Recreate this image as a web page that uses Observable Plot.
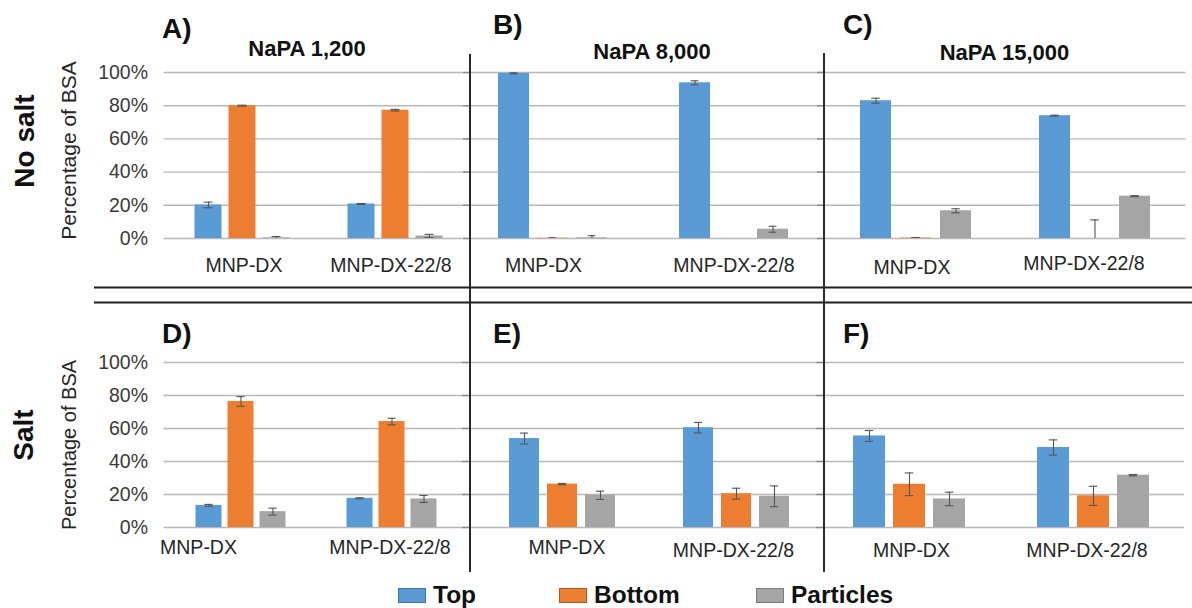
<!DOCTYPE html>
<html>
<head>
<meta charset="utf-8">
<script src="https://cdn.jsdelivr.net/npm/d3@7"></script>
<script src="https://cdn.jsdelivr.net/npm/@observablehq/plot@0.6"></script>
<style>
  html, body { margin: 0; padding: 0; background: #fff; }
  #figure { position: relative; width: 1192px; height: 608px; overflow: hidden;
            font-family: "Liberation Sans", Arial, sans-serif; background: #fff; }
  .panel { position: absolute; }
  .panel svg { position: absolute; left: 0; top: 0; }
  #overlay { position: absolute; left: 0; top: 0; pointer-events: none; }
  .legend-item { position: absolute; top: 581px; height: 28px; line-height: 28px;
                 display: flex; align-items: center; gap: 7px;
                 font-weight: bold; font-size: 24.5px; color: #111; white-space: nowrap; }
  .swatch { width: 26px; height: 13px; border: 1px solid; }
</style>
</head>
<body>
<div id="figure"></div>
<script>
// ---- data ---------------------------------------------------------------
const categories = ["MNP-DX", "MNP-DX-22/8"];
const series = ["Top", "Bottom", "Particles"];
const seriesColors = ["#5B9BD5", "#ED7D31", "#A5A5A5"];
const seriesBorders = ["#41719C", "#AE5A21", "#7C7C7C"];
const yTicks = [0, 20, 40, 60, 80, 100];
const panelIds = ["A", "B", "C", "D", "E", "F"];
const napaTitles = ["NaPA 1,200", "NaPA 8,000", "NaPA 15,000"];
const rowLabels = ["No salt", "Salt"];
const yLabel = "Percentage of BSA";

// mean % of BSA per category (rows) and fraction (Top, Bottom, Particles)
const valuesA = [[20.2, 80.0, 0.4], [20.8, 77.3, 1.5]];
const errorsA = [[1.7, 0.3, 0.8], [0.3, 0.5, 1.0]];
const valuesB = [[99.5, 0.2, 0.4], [93.8, 0.0, 5.6]];
const errorsB = [[0.3, 0.2, 1.3], [1.2, 0.0, 1.8]];
const valuesC = [[83.0, 0.3, 16.7], [74.0, 0.0, 25.5]];
const errorsC = [[1.5, 0.3, 1.2], [0.3, 11.2, 0.3]];
const valuesD = [[13.4, 76.4, 9.6], [17.7, 64.2, 17.3]];
const errorsD = [[0.6, 2.9, 2.1], [0.3, 2.0, 2.1]];
const valuesE = [[53.9, 26.3, 19.5], [60.5, 20.5, 18.9]];
const errorsE = [[3.3, 0.4, 2.5], [3.2, 3.3, 6.3]];
const valuesF = [[55.5, 26.2, 17.3], [48.5, 19.2, 31.7]];
const errorsF = [[3.3, 6.9, 4.1], [4.6, 5.8, 0.4]];

const panelValues = {A: valuesA, B: valuesB, C: valuesC, D: valuesD, E: valuesE, F: valuesF};
const panelErrors = {A: errorsA, B: errorsB, C: errorsC, D: errorsD, E: errorsE, F: errorsF};

// ---- layout (pixels) ----------------------------------------------------
const rowLayout = [
  {top: 0,   height: 285, marginTop: 72, marginBottom: 47},
  {top: 300, height: 280, marginTop: 62, marginBottom: 53}
];
const panelLayout = {
  A: {row: 0, left: 163.5, right: 469,    barStart: 194,   groupStep: 153,   barWidth: 26.5, barGap: 7.5, labelPad: [20, 20],     labelShift: [2, -4],     axisLabels: true},
  B: {row: 0, left: 470.5, right: 823.5,  barStart: 495.7, groupStep: 182,   barWidth: 31.7, barGap: 8.3, labelPad: [19.5, 19.5], labelShift: [-9.5, 0]},
  C: {row: 0, left: 824.5, right: 1185,   barStart: 859.3, groupStep: 179.7, barWidth: 31,   barGap: 9,   labelPad: [22, 17.5],   labelShift: [-4, -11]},
  D: {row: 1, left: 163.5, right: 468,    barStart: 193.7, groupStep: 151.3, barWidth: 26.3, barGap: 6.7, labelPad: [13, 13],     labelShift: [-42, -1.5], axisLabels: true},
  E: {row: 1, left: 469.5, right: 823.5,  barStart: 506.7, groupStep: 175,   barWidth: 30.3, barGap: 8.7, labelPad: [13, 16],     labelShift: [4.5, -3]},
  F: {row: 1, left: 824,   right: 1184,   barStart: 851.7, groupStep: 184,   barWidth: 32,   barGap: 8.3, labelPad: [16, 16],     labelShift: [2.5, -6]}
};
const letterPos = {A: [162, 38], B: [493, 34], C: [843, 34], D: [162, 342.5], E: [493, 343], F: [843, 342.5]};
const titlePos = [[307, 56], [652, 59], [1004.5, 59.5]];
const rowLabelPos = [[33.5, 141], [33, 435]];
const yLabelPos = [[76, 150.5, 21], [76, 445, 20]];
const legendLeft = [398, 559, 756];
const font = "Liberation Sans, Arial, sans-serif";

const figure = document.getElementById("figure");

function table(values, errors) {
  const out = [];
  categories.forEach((category, i) => series.forEach((s, j) => {
    out.push({category, series: s, value: values[i][j], error: errors[i][j]});
  }));
  return out;
}

function panelPlot(id) {
  const cfg = panelLayout[id];
  const row = rowLayout[cfg.row];
  const data = table(panelValues[id], panelErrors[id]);
  const withError = data.filter(d => d.error > 0);
  const caps = withError.flatMap(d => [
    {...d, y: d.value - d.error},
    {...d, y: d.value + d.error}
  ]);

  const w = cfg.barWidth, g = cfg.barGap, S = cfg.groupStep;
  const G = 3 * w + 2 * g;
  const frameW = cfg.right - cfg.left;
  const outer = frameW - S - G;
  const ml = cfg.axisLabels ? cfg.left : 10;
  const mr = 2;
  const width = ml + frameW + mr;
  const capInset = (w - 8.5) / 2;

  const frame = {
    width, height: row.height,
    marginLeft: ml, marginRight: mr,
    marginTop: row.marginTop, marginBottom: row.marginBottom,
    style: {background: "none", overflow: "visible", fontFamily: font, fontSize: "19.5px"},
    y: {domain: [0, 100], axis: null}
  };

  // background layer: value grid, tick labels or short outward ticks
  const gridMarks = [Plot.ruleY(yTicks, {stroke: "#b8b8b8", strokeWidth: 1.4})];
  if (cfg.axisLabels) {
    gridMarks.push(Plot.text(yTicks, {
      y: d => d, text: d => `${d}%`, frameAnchor: "left",
      textAnchor: "end", dx: -16, fontSize: 19.5, fill: "#3a3a3a"
    }));
  } else {
    gridMarks.push(Plot.ruleY(yTicks, {
      insetLeft: -8, insetRight: frameW, stroke: "#8a8a8a", strokeWidth: 1.4
    }));
  }
  const grid = Plot.plot({...frame, marks: gridMarks});

  // foreground layer: grouped bars with error bars and category labels
  const marks = [
    Plot.barY(data, {fx: "category", x: "series", y: "value", fill: "series"}),
    Plot.ruleX(withError, {
      fx: "category", x: "series",
      y1: d => d.value - d.error, y2: d => d.value + d.error,
      stroke: "#555", strokeWidth: 1.1, clip: true
    }),
    Plot.tickY(caps, {
      fx: "category", x: "series", y: "y",
      insetLeft: capInset, insetRight: capInset,
      stroke: "#555", strokeWidth: 1.1, clip: true
    })
  ];
  // one label per group, under its facet
  categories.forEach((c, i) => marks.push(Plot.text([c], {
    fx: d => d, text: d => d, frameAnchor: "bottom", lineAnchor: "top",
    dy: cfg.labelPad[i], dx: cfg.labelShift[i], fontSize: 19.5, fill: "#262626"
  })));

  const bars = Plot.plot({
    ...frame,
    fx: {domain: categories, paddingInner: (S - G) / S, paddingOuter: outer / (2 * S),
         align: (cfg.barStart - cfg.left) / outer, axis: null, label: null},
    x: {domain: series, paddingInner: g / (w + g), paddingOuter: 0, axis: null},
    color: {domain: series, range: seriesColors},
    marks
  });

  const holder = document.createElement("div");
  holder.className = "panel";
  holder.style.left = (cfg.left - ml) + "px";
  holder.style.top = row.top + "px";
  holder.style.width = width + "px";
  holder.style.height = row.height + "px";
  holder.appendChild(grid);
  holder.appendChild(bars);
  figure.appendChild(holder);
}

panelIds.forEach(panelPlot);

// ---- annotations: panel letters, titles, row labels, dividers --------------
const svg = d3.create("svg")
  .attr("id", "overlay")
  .attr("width", 1192)
  .attr("height", 608)
  .style("font-family", font);

const ink = "#1e1e1e";
// horizontal double divider between the two rows
[287.5, 302.5].forEach(y => svg.append("line")
  .attr("x1", 94).attr("x2", 1192).attr("y1", y).attr("y2", y)
  .attr("stroke", ink).attr("stroke-width", 2.2));
// vertical dividers between the columns
[[470, 54], [824, 53]].forEach(([x, y0]) => svg.append("line")
  .attr("x1", x).attr("x2", x).attr("y1", y0).attr("y2", 572)
  .attr("stroke", "#2a2a2a").attr("stroke-width", 2));

panelIds.forEach(id => svg.append("text")
  .attr("x", letterPos[id][0]).attr("y", letterPos[id][1])
  .attr("font-size", 28).attr("font-weight", "bold").attr("fill", "#111")
  .text(id + ")"));

napaTitles.forEach((t, i) => svg.append("text")
  .attr("x", titlePos[i][0]).attr("y", titlePos[i][1])
  .attr("text-anchor", "middle").attr("font-size", 22).attr("font-weight", "bold").attr("fill", "#111")
  .text(t));

rowLabels.forEach((t, i) => svg.append("text")
  .attr("transform", `translate(${rowLabelPos[i][0]},${rowLabelPos[i][1]}) rotate(-90)`)
  .attr("text-anchor", "middle").attr("font-size", 28).attr("font-weight", "bold").attr("fill", "#111")
  .text(t));

yLabelPos.forEach(([x, y, size]) => svg.append("text")
  .attr("transform", `translate(${x},${y}) rotate(-90)`)
  .attr("text-anchor", "middle").attr("font-size", size).attr("fill", "#262626")
  .text(yLabel));

figure.appendChild(svg.node());

// ---- legend --------------------------------------------------------------
series.forEach((s, i) => {
  const item = document.createElement("div");
  item.className = "legend-item";
  item.style.left = legendLeft[i] + "px";
  const sw = document.createElement("span");
  sw.className = "swatch";
  sw.style.background = seriesColors[i];
  sw.style.borderColor = seriesBorders[i];
  const label = document.createElement("span");
  label.textContent = s;
  item.appendChild(sw);
  item.appendChild(label);
  figure.appendChild(item);
});
</script>
</body>
</html>
